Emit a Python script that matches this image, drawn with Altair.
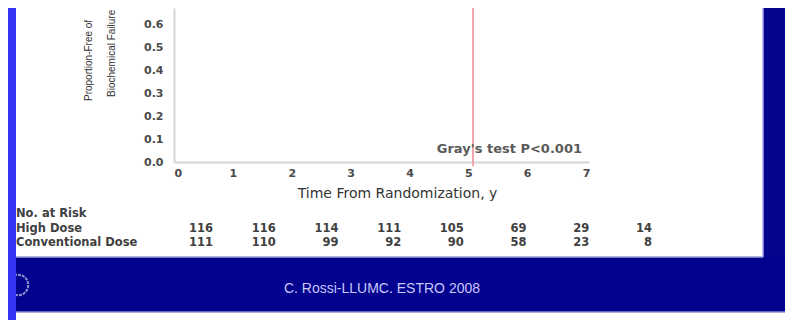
import altair as alt
import pandas as pd

# ---- data ----
years = [0, 1, 2, 3, 4, 5, 6, 7]
high_dose_at_risk = [116, 116, 114, 111, 105, 69, 29, 14]
conv_dose_at_risk = [111, 110, 99, 92, 90, 58, 23, 8]
marker_year = [5.08]          # vertical pink line
y_title_lines = ["Proportion-Free of", "Biochemical Failure"]
test_label = "Gray's test P<0.001"
footer = "C. Rossi-LLUMC. ESTRO 2008"
x_title = "Time From Randomization, y"

one = pd.DataFrame({"k": [0]})
TXT = "DejaVu Sans"
NARROW = "Liberation Sans Narrow, Liberation Sans, Arial"

# ---- slide decorations ----
def rect(x, x2, y, y2, color):
    return alt.Chart(one).mark_rect(color=color).encode(
        x=alt.value(x), x2=alt.value(x2), y=alt.value(y), y2=alt.value(y2))

def rule(x, x2, y, y2, color, w=1):
    return alt.Chart(one).mark_rule(color=color, strokeWidth=w).encode(
        x=alt.value(x), x2=alt.value(x2), y=alt.value(y), y2=alt.value(y2))

band = rect(-158, 640, 249, 304, "#02028e")
right_panel = rect(589, 640, -20, 249, "#06068c")
band_top = rule(-158, 589, 249, 249, "#9a9ad8", 1.5)
band_bot = rule(-158, 640, 304, 304, "#8c8cd0", 1.5)
panel_edge = rule(589, 589, -20, 249, "#a8a8e8", 1.5)
logo = alt.Chart(one).mark_point(shape="circle", filled=False, stroke="#d0d0e4",
                                 strokeWidth=2, strokeDash=[3, 1], size=420).encode(
    x=alt.value(-156), y=alt.value(277))
left_strip = rect(-170, -158, -20, 330, "#3434f2")

footer_t = alt.Chart(one).mark_text(text=footer, font=NARROW, fontSize=14,
                                    color="#c8c8fa", align="center", baseline="middle").encode(
    x=alt.value(208), y=alt.value(281))

# ---- plot ----
marker_df = pd.DataFrame({"year": marker_year, "top": [0.72], "bot": [-0.018]})
marker = alt.Chart(marker_df).mark_rule(color="#f2a3ab", strokeWidth=2).encode(
    x=alt.X("year:Q",
            scale=alt.Scale(domain=[0, 7.05], nice=False, zero=False),
            axis=alt.Axis(values=years, format="d", title=x_title, grid=False,
                          ticks=False, labelPadding=5, labelFont=TXT, labelFontSize=11,
                          labelFontWeight="bold", labelColor="#4a4a4a",
                          domainColor="#d6d6d6", domainWidth=2,
                          titleFont=TXT, titleFontSize=14, titleFontWeight="normal",
                          titleColor="#333333", titleX=223, titleY=31,
                          titleBaseline="middle", titleAlign="center")),
    y=alt.Y("top:Q",
            scale=alt.Scale(domain=[0, 0.67], nice=False, zero=True),
            axis=alt.Axis(values=[0, 0.1, 0.2, 0.3, 0.4, 0.5, 0.6], format=".1f",
                          title=None, grid=False, ticks=False, labelPadding=11,
                          labelFont=TXT, labelFontSize=11, labelFontWeight="bold",
                          labelColor="#4a4a4a", domainColor="#d6d6d6", domainWidth=2)),
    y2="bot:Q",
)

ytitle1 = alt.Chart(one).mark_text(text=y_title_lines[0], font=NARROW, fontSize=10,
                                   angle=270, align="left", baseline="middle",
                                   color="#333333").encode(x=alt.value(-85), y=alt.value(93))
ytitle2 = alt.Chart(one).mark_text(text=y_title_lines[1], font=NARROW, fontSize=10,
                                   angle=270, align="left", baseline="middle",
                                   color="#333333").encode(x=alt.value(-62), y=alt.value(89))

gray_t = alt.Chart(one).mark_text(text=test_label, font=TXT, fontSize=13,
                                  fontWeight="bold", color="#5a5a5a",
                                  align="right", baseline="middle").encode(
    x=alt.value(408), y=alt.value(141))

# ---- number at risk table ----
tbl = pd.DataFrame({"col": years, "high": high_dose_at_risk, "conv": conv_dose_at_risk})
col_scale = alt.Scale(domain=[0, 7], range=[39, 478])

def row_text(field, ypix):
    return alt.Chart(tbl).mark_text(font=TXT, fontSize=11.5, fontWeight="bold",
                                    color="#404040", align="right", baseline="middle").encode(
        x=alt.X("col:Q", scale=col_scale, axis=None),
        y=alt.value(ypix),
        text=alt.Text(f"{field}:Q", format="d"))

def lab(txt, ypix):
    return alt.Chart(one).mark_text(text=txt, font=TXT, fontSize=11.5, fontWeight="bold",
                                    color="#404040", align="left", baseline="middle").encode(
        x=alt.value(-158), y=alt.value(ypix))

chart = alt.layer(
    marker,
    band, right_panel, band_top, band_bot, panel_edge, logo, left_strip, footer_t,
    ytitle1, ytitle2, gray_t,
    lab("No. at Risk", 206), lab("High Dose", 221), lab("Conventional Dose", 235),
    row_text("high", 221), row_text("conv", 235),
).resolve_scale(x="independent").properties(
    width=415, height=154,
    autosize=alt.AutoSizeParams(type="none"),
    padding={"left": 166, "top": 0, "right": 196, "bottom": 158},
    background="white",
).configure_view(stroke=None)

chart.save("out.html", embed_options={"renderer": "svg", "actions": False})
